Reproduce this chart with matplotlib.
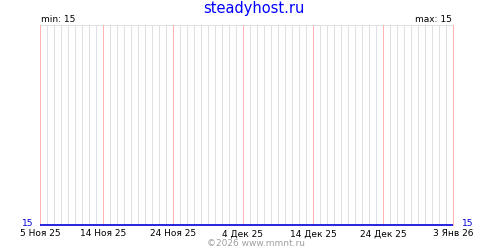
import matplotlib
matplotlib.use('Agg')
import matplotlib.pyplot as plt
import numpy as np

# data
dates = np.array(['2025-11-05', '2026-01-03'], dtype='datetime64[D]')
values = [15, 15]
tick_dates = np.array(['2025-11-05', '2025-11-14', '2025-11-24', '2025-12-04',
                       '2025-12-14', '2025-12-24', '2026-01-03'], dtype='datetime64[D]')
tick_labels = ['5 Ноя 25', '14 Ноя 25', '24 Ноя 25', '4 Дек 25',
               '14 Дек 25', '24 Дек 25', '3 Янв 26']
title = 'steadyhost.ru'
v_min, v_max = min(values), max(values)

plt.rcParams['font.family'] = ['DejaVu Sans']

fig = plt.figure(figsize=(5, 2.5), dpi=100)
ax = fig.add_axes([40 / 500, 25 / 250, 413 / 500, 200 / 250])

ax.plot(dates, values, color='#0000dd', lw=1.2, solid_capstyle='butt', zorder=5, clip_on=False)
ax.set_xlim(dates[0], dates[-1])
ax.set_ylim(v_min, v_min + 1)

# daily grey grid, pink at labelled dates
days = np.arange(dates[0], dates[-1] + 1)
plain_days = np.setdiff1d(days, tick_dates)
ax.vlines(plain_days, v_min, v_min + 1, colors='#e0e0e0', lw=0.7, antialiased=False, zorder=1)
ax.vlines(tick_dates, v_min, v_min + 1, colors='#ffb4b4', lw=0.7, antialiased=False, zorder=3,
          clip_on=False)
ax.axhline(v_min + 1, color='#e0e0e0', lw=0.7, clip_on=False, antialiased=False)

ax.set_xticks(tick_dates)
ax.set_xticklabels(tick_labels, fontsize=6.5)
ax.tick_params(which='both', length=0, pad=3)
ax.set_yticks([])
for s in ax.spines.values():
    s.set_visible(False)

# value labels at both ends
ax.annotate(str(values[0]), xy=(dates[0], values[0]), xytext=(-7, 1), textcoords='offset pixels',
            ha='right', va='center', color='#0000dd', fontsize=6.5)
ax.annotate(str(values[-1]), xy=(dates[-1], values[-1]), xytext=(9, 1), textcoords='offset pixels',
            ha='left', va='center', color='#0000dd', fontsize=6.5)

fig.text(254 / 500, 1 - 9 / 250, title, ha='center', va='center', color='#0000ff', fontsize=10.5)
fig.text(41 / 500, 1 - 19 / 250, f'min: {v_min}', ha='left', va='center', fontsize=6.5)
fig.text(452 / 500, 1 - 19 / 250, f'max: {v_max}', ha='right', va='center', fontsize=6.5)
fig.text(256 / 500, 1 - 243.5 / 250, '©2026 www.mmnt.ru', ha='center', va='center',
         color='#a0a0a0', fontsize=6.5)

fig.savefig('out.png', dpi=100)
